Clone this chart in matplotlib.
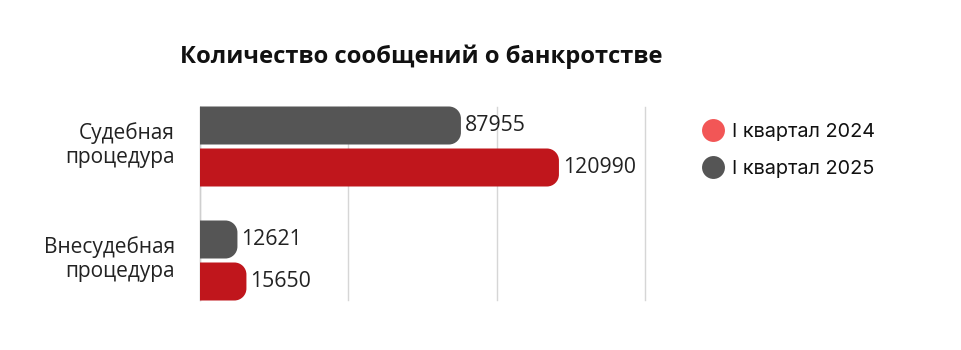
import matplotlib
matplotlib.use("Agg")
import matplotlib.pyplot as plt
from matplotlib.path import Path
from matplotlib.patches import PathPatch
from matplotlib.lines import Line2D
from matplotlib.transforms import IdentityTransform, ScaledTranslation

categories = ["Судебная\nпроцедура", "Внесудебная\nпроцедура"]
series_names = ["I квартал 2024", "I квартал 2025"]
values_2024 = [120990, 15650]
values_2025 = [87955, 12621]
x_ticks = [0, 50000, 100000, 150000]

bar_red = "#c0161c"
bar_gray = "#555555"
legend_red = "#f25656"
legend_gray = "#555555"

fig = plt.figure(figsize=(9.62, 3.5), dpi=100)
ax = fig.add_axes([200/962, 50/350, 445/962, 193/350])

off = 21/114
h = 38/114
ypos = list(range(len(categories)))
b25 = ax.barh([y - off for y in ypos], values_2025, height=h, color=bar_gray)
b24 = ax.barh([y + off for y in ypos], values_2024, height=h, color=bar_red)

ax.set_xlim(0, 150000)
ax.set_ylim(1 + 39.5/114, -39.5/114)
ax.set_xticks(x_ticks)
ax.set_yticks(ypos)
ax.set_yticklabels(categories, fontsize=15, family="Open Sans", color="#222222",
                   linespacing=1.2)
ax.tick_params(axis="y", length=0, pad=18)
ax.tick_params(axis="x", length=0, labelbottom=False)
shift = ScaledTranslation(0, 4/72, fig.dpi_scale_trans)
for lbl in ax.get_yticklabels():
    lbl.set_transform(lbl.get_transform() + shift)
for s in ["top", "right", "bottom"]:
    ax.spines[s].set_visible(False)
ax.spines["left"].set_color("#cfcfcf")
ax.spines["left"].set_linewidth(1)
ax.grid(axis="x", color="#d6d6d6", linewidth=1)
for gl in ax.get_xgridlines():
    gl.set_clip_on(False)
ax.set_axisbelow(True)

fig.canvas.draw()
r = 12.0
for bars, vals in ((b25, values_2025), (b24, values_2024)):
    for rect, v in zip(bars, vals):
        x0, y0 = rect.get_x(), rect.get_y()
        w, hh = rect.get_width(), rect.get_height()
        (px0, py0) = ax.transData.transform((x0, y0))
        (px1, py1) = ax.transData.transform((x0 + w, y0 + hh))
        lo, hi = min(py0, py1), max(py0, py1)
        rr = min(r, (hi - lo) / 2, (px1 - px0))
        k = 0.5523 * rr
        verts = [(px0, lo), (px1 - rr, lo),
                 (px1 - rr + k, lo), (px1, lo + rr - k), (px1, lo + rr),
                 (px1, hi - rr),
                 (px1, hi - rr + k), (px1 - rr + k, hi), (px1 - rr, hi),
                 (px0, hi), (px0, lo)]
        codes = [Path.MOVETO, Path.LINETO,
                 Path.CURVE4, Path.CURVE4, Path.CURVE4,
                 Path.LINETO,
                 Path.CURVE4, Path.CURVE4, Path.CURVE4,
                 Path.LINETO, Path.CLOSEPOLY]
        patch = PathPatch(Path(verts, codes), facecolor=rect.get_facecolor(),
                          edgecolor="none", transform=IdentityTransform(), zorder=3)
        fig.add_artist(patch)
        rect.set_visible(False)
        ax.annotate(f"{v}", (x0 + w, y0 + hh / 2), xytext=(3, 0),
                    textcoords="offset points", va="center", ha="left",
                    fontsize=15.3, family="Open Sans", color="#222222")

fig.text(421/962, 1 - 57/350, "Количество сообщений о банкротстве",
         ha="center", va="center", fontsize=17.1, fontweight="bold",
         family="Open Sans", color="#111111")

handles = [Line2D([], [], marker="o", linestyle="none", markersize=16.5,
                  markerfacecolor=legend_red, markeredgecolor="none"),
           Line2D([], [], marker="o", linestyle="none", markersize=16.5,
                  markerfacecolor=legend_gray, markeredgecolor="none")]
fig.legend(handles, series_names, loc="upper left",
           bbox_to_anchor=(683/962, 1 - 105/350), frameon=False,
           prop={"family": "Inter", "size": 14.3}, handletextpad=0.35,
           labelspacing=0.98, handlelength=1.2, labelcolor="#111111")

fig.savefig("out.png", dpi=100, facecolor="white")
